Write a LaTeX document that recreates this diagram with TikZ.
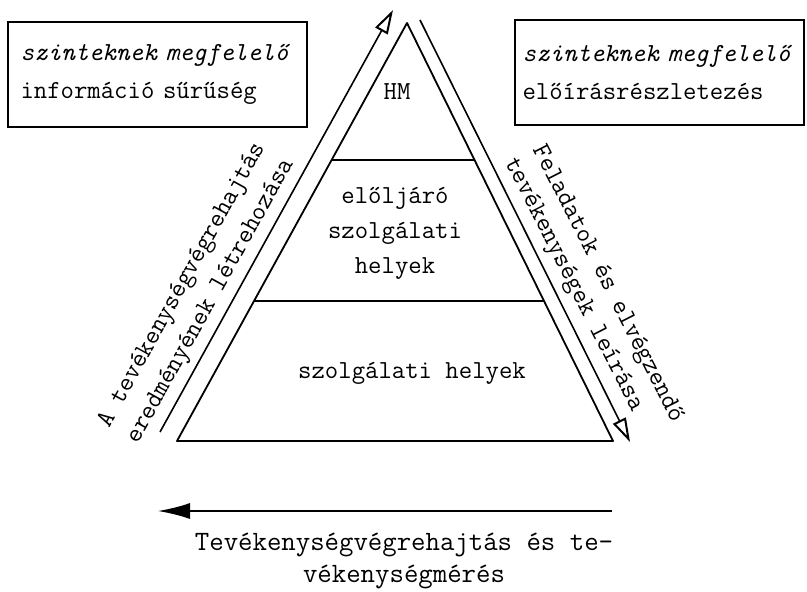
\documentclass[tikz,border=0pt]{standalone}
\usepackage{fontspec}
\usetikzlibrary{arrows.meta,calc}
\begin{document}
\begin{tikzpicture}[x=0.5pt,y=-0.5pt,
  txt/.style={font=\fontsize{13}{17.5}\selectfont\ttfamily, inner sep=0pt, align=center},
  boxtxt/.style={draw, line width=0.8pt, font=\fontsize{13}{19}\selectfont\ttfamily,
     align=left, minimum height=52.5pt},
  edge/.style={line width=0.9pt},
  arr/.style={line width=0.8pt},
  openhead/.style={-{Triangle[open,length=12pt,width=7pt,line width=1pt]}}]
\useasboundingbox (0,0) rectangle (807,592);

% boxes
\node[boxtxt, text width=137pt, inner xsep=6.25pt] (lbox) at (157.5,74.5)
  {{\itshape szinteknek megfelelő}\\információ sűrűség};
\node[boxtxt, text width=137pt, inner xsep=3.75pt] (rbox) at (659.5,72.5)
  {{\itshape szinteknek megfelelő}\\előírásrészletezés};

% pyramid
\coordinate (apex) at (407,23);
\coordinate (bl) at (177,441);
\coordinate (br) at (613,441);
\draw[edge, line join=round] (apex) -- (bl) -- (br) -- cycle;
\coordinate (d1l) at ($(apex)!0.3278!(bl)$);
\coordinate (d1r) at ($(apex)!0.3278!(br)$);
\coordinate (d2l) at ($(apex)!0.665!(bl)$);
\coordinate (d2r) at ($(apex)!0.665!(br)$);
\draw[edge] (d1l) -- (d1r);
\draw[edge] (d2l) -- (d2r);

\node[txt] (hm) at (397,92) {HM};
\node[txt] (mid) at (395,233) {előljáró\\szolgálati\\helyek};
\node[txt] (low) at (412,373) {szolgálati helyek};

% side arrows
\coordinate (la0) at (160,432);
\coordinate (la1) at (393,10);
\draw[arr, openhead] (la0) -- (la1);
\coordinate (ra0) at (420,20);
\coordinate (ra1) at (630,442);
\draw[arr, openhead] (ra0) -- (ra1);

\node[txt, rotate=61] (lt1) at (182.5,285.5) {A tevékenységvégrehajtás};
\node[txt, rotate=61] (lt2) at (211,301.5) {eredményének létrehozása};
\node[txt, rotate=-63] (rt1) at (607,284) {Feladatok és elvégzendő};
\node[txt, rotate=-63] (rt2) at (573,285) {tevékenységek leírása};

% bottom arrow
\coordinate (ba0) at (612,511);
\coordinate (ba1) at (158,511);
\draw[arr, -{Latex[length=16pt,width=8pt]}] (ba0) -- (ba1);
\node[txt, font=\fontsize{14}{16}\selectfont\ttfamily] (bt) at (404,561)
  {Tevékenységvégrehajtás és te-\\vékenységmérés};
\end{tikzpicture}
\end{document}
